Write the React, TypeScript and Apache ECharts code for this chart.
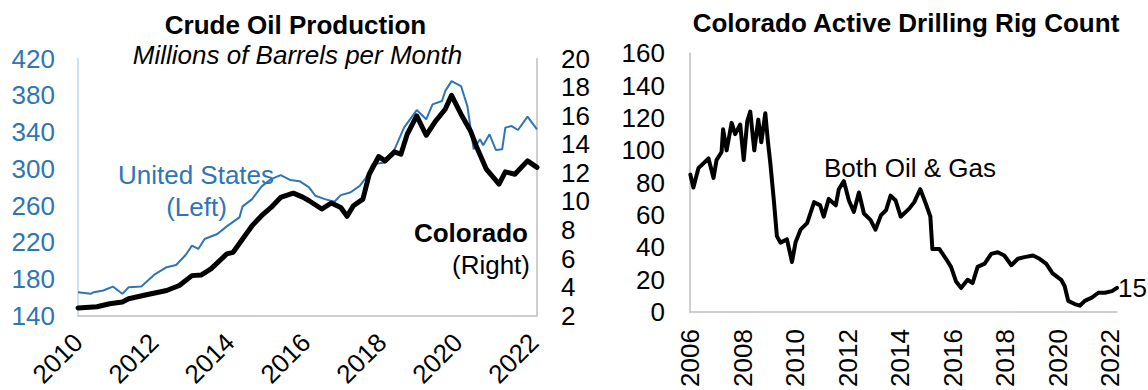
import React, { useEffect, useRef } from "react";
import * as echarts from "echarts";

const FONT = "'Liberation Sans', Arial, Helvetica, sans-serif";
const BLUE = "#2E75B6";
const AXIS_GRAY = "#BFBFBF";
const AXIS_BLUE = "#BDD7EE";

// U.S. crude oil production, millions of barrels per month (left axis)
const usProduction: [string, number][] = [
  ["2010-01", 165.7], ["2010-05", 163.9], ["2010-06", 165.7], ["2010-09", 167.5],
  ["2010-12", 171.8], ["2011-03", 163.9], ["2011-05", 171.1], ["2011-09", 171.8],
  ["2012-01", 184.5], ["2012-05", 192.9], ["2012-08", 195.3], ["2012-11", 206.2],
  ["2013-01", 216.3], ["2013-03", 212.7], ["2013-05", 223.6], ["2013-09", 229.0],
  ["2013-12", 237.3], ["2014-04", 247.1], ["2014-05", 259.1], ["2014-08", 267.0],
  ["2014-11", 280.8], ["2015-02", 288.7], ["2015-05", 293.0], ["2015-08", 287.9],
  ["2015-11", 286.5], ["2016-02", 279.7], ["2016-04", 270.6], ["2016-07", 267.0],
  ["2016-10", 264.1], ["2016-12", 271.3], ["2017-03", 274.2], ["2017-06", 281.4],
  ["2017-08", 290.5], ["2017-10", 305.0], ["2018-02", 306.8], ["2018-05", 321.2],
  ["2018-08", 344.8], ["2018-12", 363.9], ["2019-03", 353.8], ["2019-05", 370.1],
  ["2019-08", 373.7], ["2019-09", 384.5], ["2019-11", 395.4], ["2020-02", 390.0],
  ["2020-04", 368.2], ["2020-06", 321.2], ["2020-08", 332.1], ["2020-09", 325.6],
  ["2020-11", 337.5], ["2021-01", 320.5], ["2021-03", 321.2], ["2021-04", 344.8],
  ["2021-06", 346.5], ["2021-08", 342.2], ["2021-11", 356.7], ["2022-02", 342.9],
];

// Colorado crude oil production, millions of barrels per month (right axis)
const coProduction: [string, number][] = [
  ["2010-01", 2.55], ["2010-07", 2.63], ["2010-11", 2.84], ["2011-03", 2.96],
  ["2011-05", 3.19], ["2011-11", 3.49], ["2012-05", 3.77], ["2012-09", 4.12],
  ["2013-01", 4.81], ["2013-04", 4.86], ["2013-07", 5.28], ["2013-12", 6.33],
  ["2014-02", 6.44], ["2014-05", 7.37], ["2014-08", 8.3], ["2014-11", 9.0],
  ["2015-02", 9.58], ["2015-05", 10.28], ["2015-09", 10.58], ["2015-12", 10.3],
  ["2016-02", 10.05], ["2016-06", 9.47], ["2016-09", 9.89], ["2016-12", 9.58],
  ["2017-02", 8.96], ["2017-04", 9.7], ["2017-07", 10.16], ["2017-09", 11.9],
  ["2017-12", 13.14], ["2018-02", 12.84], ["2018-05", 13.47], ["2018-07", 13.3],
  ["2018-09", 14.7], ["2018-12", 15.98], ["2019-03", 14.63], ["2019-06", 15.63],
  ["2019-09", 16.45], ["2019-11", 17.42], ["2020-02", 16.1], ["2020-05", 14.93],
  ["2020-07", 13.77], ["2020-10", 12.26], ["2021-02", 11.21], ["2021-04", 12.07],
  ["2021-07", 11.9], ["2021-11", 12.84], ["2022-02", 12.38],
];

// Colorado active drilling rigs, oil and gas combined (weekly)
const rigCount: [string, number][] = [
  ["2006-01-06", 85], ["2006-02-17", 77], ["2006-04-28", 89], ["2006-07-07", 92],
  ["2006-09-15", 95], ["2006-11-24", 83], ["2007-01-05", 94], ["2007-03-16", 99],
  ["2007-04-06", 113], ["2007-05-25", 100], ["2007-08-03", 117], ["2007-09-21", 110],
  ["2007-11-30", 116], ["2008-01-18", 94], ["2008-03-07", 118], ["2008-04-18", 124],
  ["2008-06-13", 100], ["2008-08-08", 119], ["2008-09-19", 105], ["2008-11-14", 123],
  ["2008-12-19", 106], ["2009-01-23", 92], ["2009-03-13", 69], ["2009-04-24", 47],
  ["2009-06-12", 43], ["2009-09-11", 45], ["2009-11-20", 31], ["2010-01-08", 43],
  ["2010-03-19", 51], ["2010-06-18", 55], ["2010-09-24", 68], ["2010-12-17", 66],
  ["2011-02-04", 59], ["2011-04-15", 70], ["2011-07-22", 66], ["2011-09-02", 76],
  ["2011-11-11", 81], ["2012-01-20", 69], ["2012-03-30", 62], ["2012-06-08", 74],
  ["2012-08-17", 61], ["2012-11-16", 57], ["2013-01-25", 51], ["2013-04-12", 60],
  ["2013-06-21", 63], ["2013-08-23", 72], ["2013-11-01", 69], ["2014-01-10", 59],
  ["2014-05-09", 64], ["2014-07-18", 68], ["2014-10-10", 76], ["2014-12-26", 67],
  ["2015-02-27", 59], ["2015-03-27", 39], ["2015-07-03", 39], ["2015-10-02", 33],
  ["2015-12-11", 28], ["2016-02-19", 19], ["2016-04-29", 15], ["2016-07-29", 20],
  ["2016-10-07", 18], ["2016-12-16", 28], ["2017-03-24", 30], ["2017-06-23", 36],
  ["2017-09-22", 37], ["2017-12-22", 35], ["2018-03-30", 29], ["2018-06-29", 33],
  ["2018-09-28", 34], ["2019-01-25", 35], ["2019-04-26", 33], ["2019-07-26", 30],
  ["2019-10-25", 24], ["2020-02-21", 20], ["2020-04-10", 16], ["2020-05-29", 7],
  ["2020-08-28", 5], ["2020-11-06", 4], ["2021-01-15", 7], ["2021-04-23", 9],
  ["2021-07-23", 12], ["2021-10-22", 12], ["2022-01-28", 13], ["2022-04-08", 15],
];

// Axis ranges and tick steps
const usAxis = { min: 140, max: 420, step: 40 };
const coAxis = { min: 2, max: 20, step: 2 };
const rigAxis = { min: 0, max: 160, step: 20 };
const productionStartYear = 2010;
const rigStartYear = 2006;

// "YYYY-MM" -> fractional year
const monthToYear = (m: string) => {
  const [y, mo] = m.split("-").map(Number);
  return y + (mo - 1) / 12;
};

// "YYYY-MM-DD" -> fractional year
const dateToYear = (d: string) => {
  const [y, mo, da] = d.split("-").map(Number);
  const start = Date.UTC(y, 0, 1);
  const end = Date.UTC(y + 1, 0, 1);
  return y + (Date.UTC(y, mo - 1, da) - start) / (end - start);
};

const yearLabel = (v: number) => (Math.abs(v - Math.round(v)) < 1e-6 ? String(Math.round(v)) : "");

export default function App() {
  const ref = useRef<HTMLDivElement>(null);

  useEffect(() => {
    if (!ref.current) return;
    const chart = echarts.init(ref.current, undefined, { renderer: "svg" });

    const usData = usProduction.map(([m, v]) => [monthToYear(m), v]);
    const coData = coProduction.map(([m, v]) => [monthToYear(m), v]);
    const rigData = rigCount.map(([d, v]) => [dateToYear(d), v]);
    const productionEnd = Math.max(
      monthToYear(usProduction[usProduction.length - 1][0]),
      monthToYear(coProduction[coProduction.length - 1][0])
    );
    const rigEnd = dateToYear(rigCount[rigCount.length - 1][0]);

    const baseText = { fontFamily: FONT, fontSize: 26 };

    chart.setOption({
      animation: false,
      backgroundColor: "#ffffff",
      textStyle: { fontFamily: FONT },
      grid: [
        { left: 78, top: 58.5, width: 459, height: 258.5, containLabel: false },
        { left: 690, top: 53.3, width: 427, height: 260, containLabel: false },
      ],
      xAxis: [
        {
          type: "value",
          gridIndex: 0,
          min: productionStartYear,
          max: productionEnd,
          interval: 2,
          axisLine: { show: true, lineStyle: { color: AXIS_GRAY, width: 1.5 } },
          axisTick: { show: false },
          splitLine: { show: false },
          axisLabel: {
            ...baseText,
            color: "#000",
            rotate: 45,
            margin: 22,
            showMaxLabel: false,
            formatter: yearLabel,
          },
        },
        {
          type: "value",
          gridIndex: 1,
          min: rigStartYear,
          max: rigEnd,
          interval: 2,
          axisLine: { show: true, lineStyle: { color: AXIS_GRAY, width: 1.5 } },
          axisTick: { show: false },
          splitLine: { show: false },
          axisLabel: {
            ...baseText,
            color: "#000",
            rotate: 90,
            margin: 17,
            showMaxLabel: false,
            formatter: yearLabel,
          },
        },
      ],
      yAxis: [
        {
          type: "value",
          gridIndex: 0,
          position: "left",
          min: usAxis.min,
          max: usAxis.max,
          interval: usAxis.step,
          axisLine: { show: true, lineStyle: { color: AXIS_BLUE, width: 1.5 } },
          axisTick: { show: false },
          splitLine: { show: false },
          axisLabel: { ...baseText, color: BLUE, margin: 23 },
        },
        {
          type: "value",
          gridIndex: 0,
          position: "right",
          min: coAxis.min,
          max: coAxis.max,
          interval: coAxis.step,
          axisLine: { show: true, lineStyle: { color: AXIS_GRAY, width: 1.5 } },
          axisTick: { show: false },
          splitLine: { show: false },
          axisLabel: { ...baseText, color: "#000", margin: 24 },
        },
        {
          type: "value",
          gridIndex: 1,
          position: "left",
          min: rigAxis.min,
          max: rigAxis.max,
          interval: rigAxis.step,
          axisLine: { show: true, lineStyle: { color: AXIS_GRAY, width: 1.5 } },
          axisTick: { show: false },
          splitLine: { show: false },
          axisLabel: { ...baseText, color: "#000", margin: 25 },
        },
      ],
      series: [
        {
          name: "United States",
          type: "line",
          xAxisIndex: 0,
          yAxisIndex: 0,
          data: usData,
          showSymbol: false,
          silent: true,
          z: 2,
          lineStyle: { color: BLUE, width: 2 },
        },
        {
          name: "Colorado",
          type: "line",
          xAxisIndex: 0,
          yAxisIndex: 1,
          data: coData,
          showSymbol: false,
          silent: true,
          z: 3,
          lineStyle: { color: "#000", width: 5, cap: "round", join: "round" },
        },
        {
          name: "Both Oil & Gas",
          type: "line",
          xAxisIndex: 1,
          yAxisIndex: 2,
          data: rigData,
          showSymbol: false,
          silent: true,
          z: 3,
          lineStyle: { color: "#000", width: 4, cap: "round", join: "round" },
          endLabel: {
            show: true,
            ...baseText,
            color: "#000",
            distance: 1,
            formatter: (p: any) => String(p.value[1]),
          },
        },
      ],
      graphic: [
        {
          type: "text",
          x: 295.5,
          y: 25.3,
          style: {
            text: "Crude Oil Production",
            font: `bold 26px ${FONT}`,
            fill: "#000",
            align: "center",
            verticalAlign: "middle",
            textAlign: "center",
            textVerticalAlign: "middle",
          },
        },
        {
          type: "text",
          x: 297.5,
          y: 55,
          style: {
            text: "Millions of Barrels per Month",
            font: `italic 26px ${FONT}`,
            fill: "#000",
            align: "center",
            verticalAlign: "middle",
            textAlign: "center",
            textVerticalAlign: "middle",
          },
        },
        {
          type: "text",
          x: 196,
          y: 175,
          style: {
            text: "United States",
            font: `26px ${FONT}`,
            fill: BLUE,
            align: "center",
            verticalAlign: "middle",
            textAlign: "center",
            textVerticalAlign: "middle",
          },
        },
        {
          type: "text",
          x: 196.5,
          y: 207,
          style: {
            text: "(Left)",
            font: `26px ${FONT}`,
            fill: BLUE,
            align: "center",
            verticalAlign: "middle",
            textAlign: "center",
            textVerticalAlign: "middle",
          },
        },
        {
          type: "text",
          x: 528,
          y: 233,
          style: {
            text: "Colorado",
            font: `bold 26px ${FONT}`,
            fill: "#000",
            align: "right",
            verticalAlign: "middle",
            textAlign: "right",
            textVerticalAlign: "middle",
          },
        },
        {
          type: "text",
          x: 530,
          y: 265,
          style: {
            text: "(Right)",
            font: `26px ${FONT}`,
            fill: "#000",
            align: "right",
            verticalAlign: "middle",
            textAlign: "right",
            textVerticalAlign: "middle",
          },
        },
        {
          type: "text",
          x: 906,
          y: 23.3,
          style: {
            text: "Colorado Active Drilling Rig Count",
            font: `bold 26px ${FONT}`,
            fill: "#000",
            align: "center",
            verticalAlign: "middle",
            textAlign: "center",
            textVerticalAlign: "middle",
          },
        },
        {
          type: "text",
          x: 824,
          y: 168,
          style: {
            text: "Both Oil & Gas",
            font: `26px ${FONT}`,
            fill: "#000",
            align: "left",
            verticalAlign: "middle",
            textAlign: "left",
            textVerticalAlign: "middle",
          },
        },
      ],
    });

    return () => chart.dispose();
  }, []);

  return (
    <div
      ref={ref}
      style={{ position: "fixed", left: 0, top: 0, width: 1148, height: 390, background: "#fff" }}
    />
  );
}
